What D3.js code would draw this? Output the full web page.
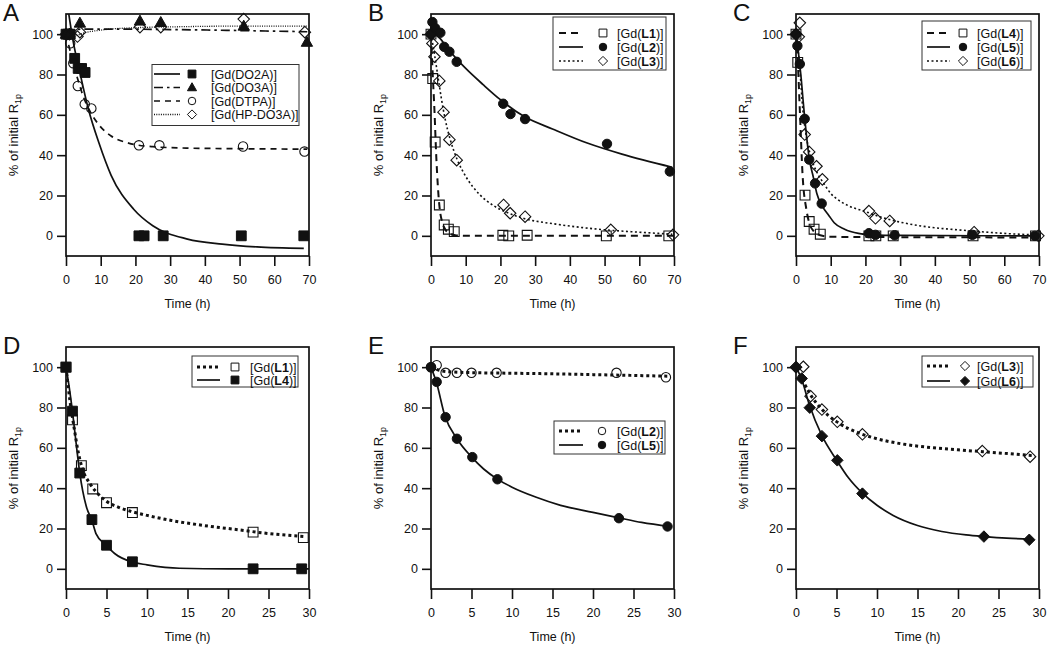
<!DOCTYPE html>
<html>
<head>
<meta charset="utf-8">
<script src="https://cdn.jsdelivr.net/npm/d3@7"></script>
<style>
  body { margin: 0; background: #fff; }
  svg text { font-family: "Liberation Sans", Arial, Helvetica, sans-serif; fill: #111; }
</style>
</head>
<body>
<svg id="chart" width="1050" height="648"></svg>
<script>
// ---- ticks ----
var longTicks  = [0, 10, 20, 30, 40, 50, 60, 70];
var shortTicks = [0, 5, 10, 15, 20, 25, 30];
var yTicks     = [0, 20, 40, 60, 80, 100];

// ---- panel A : measured points and read-off fit curves [time (h), % of initial R1p] ----
var do2aPts = [[0,100],[0.6,100],[1.2,100],[2.5,88],[3.5,83],[4.5,83],[5.5,81],[21,0],[22.5,0],[28,0],[50.5,0],[68.5,0]];
var do2aFit = [[0.8,110],[2,97],[4,81],[6.5,62.5],[9.5,46],[13,30],[19.5,13.2],[25,5],[35,-1.6],[45,-4.1],[55,-5.5],[68.5,-6.2]];
var do3aPts = [[0,100],[1,100],[4,105.5],[21.3,106.5],[27.3,105.8],[51.2,104],[69.4,96]];
var do3aFit = [[0,100],[2,102],[5,102.5],[15,102.5],[30,102.3],[50,101.8],[69.5,101.2]];
var dtpaPts = [[0,100],[1.2,95.5],[2.1,85.6],[3.4,74.3],[5.4,65.3],[7.3,63.2],[21,44.9],[26.9,44.9],[51,44.3],[68.7,41.8]];
var dtpaFit = [[0,100],[1,93],[2,86],[3.5,77],[5,69],[7,61.5],[9.5,55],[13,49.5],[18,46],[25,44.2],[35,43.5],[50,43.2],[69.5,43]];
var hpPts   = [[0,100],[1,100],[3.3,98.8],[4,101],[21.3,103.5],[27.3,103.5],[51.2,107.5],[68.8,101]];
var hpFit   = [[0,97],[2,98.5],[5,100.5],[10,102],[20,103.2],[30,103.6],[50,104],[69.5,104]];

// ---- panel B ----
var bL1Pts = [[0,100],[0.5,78],[1.2,46.5],[2.4,15.3],[3.8,5.4],[5,3.3],[6.7,2.1],[20.7,0.3],[22.4,0],[27.7,0.3],[50.5,0],[68.5,0]];
var bL1Fit = [[0,100],[0.5,80],[1,62],[1.5,40],[2,24],[2.5,13.5],[3.2,7],[4,3.5],[5,1.5],[7,0.3],[10,0],[70,0]];
var bL2Pts = [[0,100],[0.4,106],[1.2,103],[2.7,100.7],[3.8,93.7],[5.3,91.3],[7.4,86.3],[20.8,65.5],[22.9,60.4],[27.1,57.9],[50.7,45.6],[68.8,31.9]];
var bL2Fit = [[0,101],[2.5,98],[5,92.5],[7.5,87.5],[10,83],[15,75],[20,67.5],[27,59],[35,53],[45,46],[55,40.5],[69.5,34]];
var bL3Pts = [[0,100],[0.4,95.4],[1,88.8],[2.4,76.8],[3.6,61.3],[5.3,47.7],[7.4,37.5],[20.9,15.3],[22.8,11.2],[27.1,9.5],[51.8,3],[69.7,0.5]];
var bL3Fit = [[0,100],[1,90],[2,79],[3,68],[4,58.5],[5.5,48],[7.5,38],[10,29.5],[14,20.5],[18,15],[22,11.5],[27,8.5],[36,5.8],[50,3],[60,1.8],[69.5,0.8]];

// ---- panel C ----
var cL4Pts = [[0,100],[0.5,86],[2.6,20.2],[3.8,7.1],[5.2,3.3],[7,0.8],[21,0],[23,0],[28,0],[51,0],[69,0]];
var cL4Fit = [[0,100],[0.5,87],[1.1,62.5],[1.9,30],[3,13],[4,5.5],[5,2.5],[7,0.3],[10,-0.5],[70,-0.8]];
var cL5Pts = [[0,100],[0.4,94.2],[1.1,85.2],[2.5,58],[3.8,37.8],[5.5,26],[7.4,16],[21,1.3],[22.9,0.5],[28.4,0.3],[50.8,0.5],[68.8,0]];
var cL5Fit = [[0,100],[0.5,94],[1,86],[1.5,78],[2,68],[2.5,58.5],[3,50],[3.8,38.5],[5,29],[6,21],[7.5,15],[9.5,10],[11,6.5],[14,3.3],[18,1.2],[22,0.5],[30,0.2],[70,0]];
var cL6Pts = [[0,100],[0.8,98.7],[1.1,105.6],[2.5,50.2],[3.8,41.6],[5.9,34.5],[7.6,28],[21,12.3],[22.9,8.7],[27,7.4],[51.3,1.8],[69.8,0]];
var cL6Fit = [[0,100],[1,85],[2,62],[3,49],[4,41],[5,35.5],[6.5,30],[8,26],[10,21],[12,18],[15,15],[20,12],[25,9],[30,6.8],[36,4.9],[50,2.5],[60,1.2],[69.5,0.4]];

// ---- panel D ----
var dL1Pts = [[0,100],[0.8,73.9],[1.9,51.2],[3.3,39.6],[5,32.8],[8.2,27.9],[23.1,18.2],[29.3,15.5]];
var dL1Fit = [[0,100],[0.5,83],[1,70],[1.5,58],[2,50],[3,42],[4,37],[5,33.5],[6.5,30.5],[8,28.5],[10,26.5],[13,24],[17,21.5],[21,19.5],[25,17.5],[29.5,16]];
var dL4Pts = [[0,100],[0.8,78.2],[1.7,47.5],[3.2,24.4],[5,11.7],[8.2,3.5],[23.1,0],[29.1,0]];
var dL4Fit = [[0,100],[0.4,90],[0.8,78],[1.2,64],[1.7,47.5],[2.5,31],[3.2,24],[3.7,17.5],[5,11.5],[6,7.6],[8.2,3.3],[10,2],[14,0.3],[20,0],[30,0]];

// ---- panel E ----
var eL2Pts = [[0,100],[0.7,101],[1.8,97.2],[3.2,97.2],[5,97.2],[8.1,97.2],[22.9,97.2],[29,95]];
var eL2Fit = [[0,100],[1,98.5],[2,97.8],[5,97.3],[10,97],[15,96.7],[20,96.3],[25,95.9],[29.5,95.5]];
var eL5Pts = [[0,100],[0.7,92.7],[1.8,75.2],[3.2,64.5],[5.1,55.4],[8.2,44.4],[23.2,25.1],[29.2,21]];
var eL5Fit = [[0,100],[0.7,92],[1.7,76],[3.2,64.5],[5,55.5],[6.5,49.5],[8.2,44.5],[10,40.5],[13,35.5],[16,31.5],[20,28],[23.2,25.3],[26,23],[29.5,21]];

// ---- panel F ----
var fL3Pts = [[0,100],[0.9,100.2],[1.8,85.6],[3.2,79],[5.1,72.9],[8.2,66.7],[23,58.4],[28.9,55.6]];
var fL3Fit = [[0,99],[1,92],[2,85],[3,80],[4,76],[5,73],[6.5,69.5],[8,67],[10,64.5],[13,62],[17,60],[21,58.7],[25,57.5],[29.5,56]];
var fL6Pts = [[0,100],[0.7,94.4],[1.7,79.9],[3.2,65.8],[5.1,53.8],[8.2,37.3],[23.2,16],[28.8,14.4]];
var fL6Fit = [[0,100],[0.7,94],[1.6,82],[3.2,66],[5,54],[6.5,45],[8.2,37.5],[10,31.5],[12,26.5],[15,21.5],[18,18.5],[21,16.8],[23.2,16],[26,15.2],[29,14.8]];

// ---- line styles ----
var lineStyles = {
	solid:   { dash: null,          w: 1.7 },
	dashdot: { dash: '9,4,2.5,4',   w: 1.7 },
	dashed:  { dash: '6,5',         w: 1.7 },
	hair:    { dash: '1,1.3',       w: 1.3 },
	dash2:   { dash: '7,5',         w: 2 },
	dot:     { dash: '2,2.5',       w: 1.6 },
	thickdot:{ dash: '3,3',         w: 3 }
};

// panel layout: frame position, x range, series, legend box
var W = 243, H = 242;
var panels = [
	{ letter: 'A', x: 66, y: 14, xMax: 70, ticks: longTicks,
	  legend: { x: 86, y: 50.5, w: 147, h: 61, rows: [9.5, 23, 36.5, 50], line: [2, 28], mark: 40, text: 59 },
	  series: [
		{ pts: do2aPts, fit: do2aFit, shape: 'square',   filled: true,  style: 'solid',   name: ['[Gd(DO2A)]', '', ''] },
		{ pts: do3aPts, fit: do3aFit, shape: 'triangle', filled: true,  style: 'dashdot', name: ['[Gd(DO3A)]', '', ''] },
		{ pts: dtpaPts, fit: dtpaFit, shape: 'circle',   filled: false, style: 'dashed',  name: ['[Gd(DTPA)]', '', ''] },
		{ pts: hpPts,   fit: hpFit,   shape: 'diamond',  filled: false, style: 'hair',    name: ['[Gd(HP-DO3A)]', '', ''] }
	  ] },
	{ letter: 'B', x: 431, y: 14, xMax: 70, ticks: longTicks,
	  legend: { x: 122, y: 3, w: 113, h: 53, rows: [16, 30, 44], line: [6, 30], mark: 50, text: 64 },
	  series: [
		{ pts: bL1Pts, fit: bL1Fit, shape: 'square',  filled: false, style: 'dash2', name: ['[Gd(', 'L1', ')]'] },
		{ pts: bL2Pts, fit: bL2Fit, shape: 'circle',  filled: true,  style: 'solid', name: ['[Gd(', 'L2', ')]'] },
		{ pts: bL3Pts, fit: bL3Fit, shape: 'diamond', filled: false, style: 'dot',   name: ['[Gd(', 'L3', ')]'] }
	  ] },
	{ letter: 'C', x: 796, y: 14, xMax: 70, ticks: longTicks,
	  legend: { x: 126, y: 7, w: 109, h: 49, rows: [12, 26, 40], line: [5, 28], mark: 41, text: 55 },
	  series: [
		{ pts: cL4Pts, fit: cL4Fit, shape: 'square',  filled: false, style: 'dash2', name: ['[Gd(', 'L4', ')]'] },
		{ pts: cL5Pts, fit: cL5Fit, shape: 'circle',  filled: true,  style: 'solid', name: ['[Gd(', 'L5', ')]'] },
		{ pts: cL6Pts, fit: cL6Fit, shape: 'diamond', filled: false, style: 'dot',   name: ['[Gd(', 'L6', ')]'] }
	  ] },
	{ letter: 'D', x: 66, y: 347, xMax: 30, ticks: shortTicks,
	  legend: { x: 126, y: 9, w: 106, h: 31, rows: [11, 24], line: [5, 28], mark: 43, text: 58 },
	  series: [
		{ pts: dL1Pts, fit: dL1Fit, shape: 'square', filled: false, style: 'thickdot', name: ['[Gd(', 'L1', ')]'] },
		{ pts: dL4Pts, fit: dL4Fit, shape: 'square', filled: true,  style: 'solid',    name: ['[Gd(', 'L4', ')]'] }
	  ] },
	{ letter: 'E', x: 431, y: 347, xMax: 30, ticks: shortTicks,
	  legend: { x: 123, y: 74, w: 111, h: 33, rows: [10, 24], line: [5, 29], mark: 48, text: 63 },
	  series: [
		{ pts: eL2Pts, fit: eL2Fit, shape: 'circle', filled: false, style: 'thickdot', name: ['[Gd(', 'L2', ')]'] },
		{ pts: eL5Pts, fit: eL5Fit, shape: 'circle', filled: true,  style: 'solid',    name: ['[Gd(', 'L5', ')]'] }
	  ] },
	{ letter: 'F', x: 796, y: 347, xMax: 30, ticks: shortTicks,
	  legend: { x: 126, y: 9, w: 111, h: 31, rows: [10, 25], line: [5, 28], mark: 43, text: 55 },
	  series: [
		{ pts: fL3Pts, fit: fL3Fit, shape: 'diamond', filled: false, style: 'thickdot', name: ['[Gd(', 'L3', ')]'] },
		{ pts: fL6Pts, fit: fL6Fit, shape: 'diamond', filled: true,  style: 'solid',    name: ['[Gd(', 'L6', ')]'] }
	  ] }
];

// marker path centred on 0,0
var markerPath = function (shape, s) {
	var h = s / 2;
	if (shape === 'square')   return 'M' + (-h) + ',' + (-h) + 'H' + h + 'V' + h + 'H' + (-h) + 'Z';
	if (shape === 'diamond')  return 'M0,' + (-h * 1.15) + 'L' + (h * 1.15) + ',0L0,' + (h * 1.15) + 'L' + (-h * 1.15) + ',0Z';
	if (shape === 'triangle') return 'M0,' + (-h * 1.1) + 'L' + (h * 1.05) + ',' + (h * 0.75) + 'L' + (-h * 1.05) + ',' + (h * 0.75) + 'Z';
	return d3.symbol().type(d3.symbolCircle).size(Math.PI * h * h)();
};
var markerSize = { square: 9.8, circle: 9.4, diamond: 10, triangle: 10.8 };

var svg = d3.select('#chart');

panels.forEach(function (p, pi) {
	var g = svg.append('g').attr('transform', 'translate(' + p.x + ',' + p.y + ')');
	var x = d3.scaleLinear().domain([0, p.xMax]).range([0, W]);
	var y = d3.scaleLinear().domain([-10, 110]).range([H, 0]);

	// clip for the fit lines
	g.append('clipPath').attr('id', 'clip' + pi)
		.append('rect').attr('width', W).attr('height', H);

	// axes
	var xAxis = d3.axisBottom(x).tickValues(p.ticks).tickSize(10).tickPadding(9);
	var yAxis = d3.axisLeft(y).tickValues(yTicks).tickSize(9).tickPadding(4);
	var gx = g.append('g').attr('transform', 'translate(0,' + H + ')').call(xAxis);
	var gy = g.append('g').call(yAxis);
	[gx, gy].forEach(function (a) {
		a.select('.domain').remove();
		a.selectAll('line').attr('stroke', '#111').attr('stroke-width', 1.6);
		a.selectAll('text').attr('font-size', 12.5).attr('fill', '#111')
			.style('font-family', '"Liberation Sans", Arial, sans-serif');
	});

	// frame
	g.append('rect').attr('width', W).attr('height', H)
		.attr('fill', 'none').attr('stroke', '#111').attr('stroke-width', 1.7);

	// axis titles
	g.append('text').attr('x', W / 2).attr('y', H + 52)
		.attr('text-anchor', 'middle').attr('font-size', 12.5).text('Time (h)');
	var yt = g.append('text')
		.attr('transform', 'translate(-48,' + (H / 2) + ') rotate(-90)')
		.attr('text-anchor', 'middle').attr('font-size', 13);
	yt.append('tspan').text('% of initial R');
	yt.append('tspan').attr('font-size', 9).attr('dy', 3).text('1p');

	// panel letter
	g.append('text').attr('x', -63).attr('y', 7)
		.attr('font-size', 24).text(p.letter);

	// fit curves
	var line = d3.line()
		.x(function (d) { return x(d[0]); })
		.y(function (d) { return y(d[1]); })
		.curve(d3.curveMonotoneX);
	var curves = g.append('g').attr('clip-path', 'url(#clip' + pi + ')');
	p.series.forEach(function (s) {
		var st = lineStyles[s.style];
		curves.append('path').datum(s.fit)
			.attr('d', line)
			.attr('fill', 'none')
			.attr('stroke', '#111')
			.attr('stroke-width', st.w)
			.attr('stroke-dasharray', st.dash);
	});

	// data markers
	p.series.forEach(function (s) {
		g.append('g').selectAll('path')
			.data(s.pts)
			.enter()
			.append('path')
			.attr('transform', function (d) { return 'translate(' + x(d[0]) + ',' + y(d[1]) + ')'; })
			.attr('d', markerPath(s.shape, markerSize[s.shape]))
			.attr('fill', s.filled ? '#111' : 'none')
			.attr('stroke', '#111')
			.attr('stroke-width', s.filled ? 1 : 1.1);
	});

	// legend
	var L = p.legend;
	var lg = g.append('g').attr('transform', 'translate(' + L.x + ',' + L.y + ')');
	lg.append('rect').attr('width', L.w).attr('height', L.h)
		.attr('fill', '#fff').attr('stroke', '#333').attr('stroke-width', 1);
	p.series.forEach(function (s, i) {
		var st = lineStyles[s.style];
		var ry = L.rows[i];
		lg.append('line')
			.attr('x1', L.line[0]).attr('x2', L.line[1]).attr('y1', ry).attr('y2', ry)
			.attr('stroke', '#111').attr('stroke-width', st.w)
			.attr('stroke-dasharray', st.dash);
		lg.append('path')
			.attr('transform', 'translate(' + L.mark + ',' + ry + ')')
			.attr('d', markerPath(s.shape, markerSize[s.shape] * 0.8))
			.attr('fill', s.filled ? '#111' : '#fff')
			.attr('stroke', '#111').attr('stroke-width', 1);
		var t = lg.append('text').attr('x', L.text).attr('y', ry + 4.5).attr('font-size', 12.5);
		t.append('tspan').text(s.name[0]);
		if (s.name[1]) {
			t.append('tspan').attr('font-weight', 'bold').text(s.name[1]);
			t.append('tspan').text(s.name[2]);
		}
	});
});
</script>
</body>
</html>
